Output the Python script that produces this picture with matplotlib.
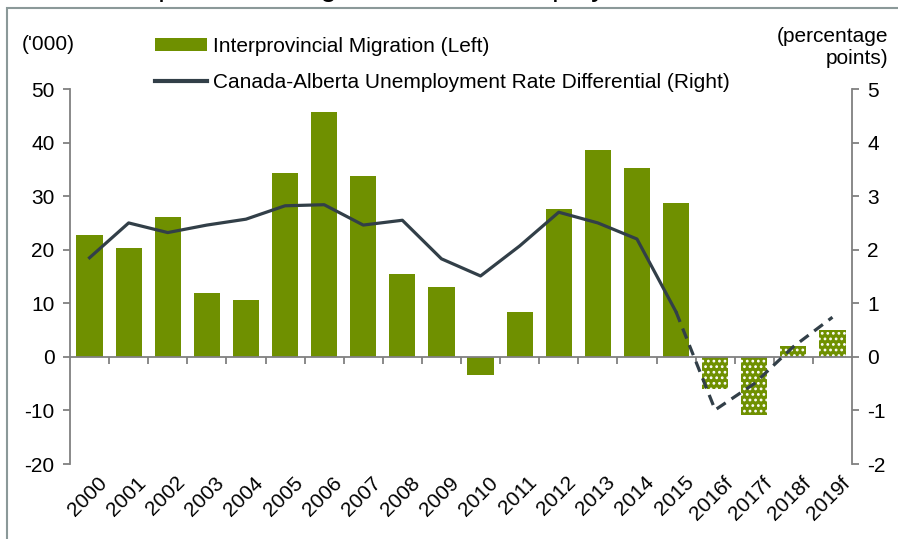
import matplotlib
matplotlib.use("Agg")
import matplotlib.pyplot as plt
import matplotlib.transforms as mtransforms
from matplotlib.patches import Rectangle
from matplotlib.lines import Line2D
from matplotlib.patches import Patch

plt.rcParams['font.family'] = ['Liberation Sans', 'DejaVu Sans']
plt.rcParams['axes.unicode_minus'] = False
plt.rcParams['hatch.linewidth'] = 1.2

# data
years = ['2000', '2001', '2002', '2003', '2004', '2005', '2006', '2007', '2008', '2009',
         '2010', '2011', '2012', '2013', '2014', '2015', '2016f', '2017f', '2018f', '2019f']
migration = [22.7, 20.4, 26.2, 11.9, 10.6, 34.4, 45.8, 33.8, 15.4, 13.1,
             -3.3, 8.4, 27.6, 38.6, 35.3, 28.8, -6.0, -10.8, 2.0, 5.0]
differential = [1.85, 2.50, 2.32, 2.46, 2.57, 2.82, 2.84, 2.46, 2.55, 1.83,
                1.51, 2.07, 2.70, 2.50, 2.20, 0.84, -0.99, -0.50, 0.19, 0.74]
n_actual = 16  # 2000-2015 actual, rest forecast

green = '#6f9000'
dark = '#323f48'
grey = '#808080'

fig = plt.figure(figsize=(8.98, 5.39), dpi=100)
ax = fig.add_axes([70/898, 1-464/539, 782/898, 375/539])
ax2 = ax.twinx()

x = list(range(len(years)))

# bars
ax.bar(x[:n_actual], migration[:n_actual], width=0.67, color=green, linewidth=0)
ax.bar(x[n_actual:], migration[n_actual:], width=0.67, color=green,
       edgecolor='white', hatch='...', linewidth=0)

# line, solid for actual, dashed for forecast
ax2.plot(x[:n_actual], differential[:n_actual], color=dark, lw=2.3, zorder=3)
ax2.plot(x[n_actual-1:], differential[n_actual-1:], color=dark, lw=2.3,
         ls=(0, (3.4, 2.2)), zorder=3)

ax.set_xlim(-0.5, len(years)-0.5)
ax.set_ylim(-20, 50)
ax.set_yticks(range(-20, 51, 10))
ax2.set_ylim(-2, 5)
ax2.set_yticks(range(-2, 6))

for a in (ax, ax2):
    a.spines['top'].set_visible(False)
    for s in a.spines.values():
        s.set_color(grey)
        s.set_linewidth(1.3)
    a.tick_params(axis='y', colors=grey, labelcolor='black', labelsize=15,
                  length=5, width=1.3, pad=6)
ax2.spines['left'].set_visible(False)
ax2.spines['bottom'].set_visible(False)
ax.spines['right'].set_visible(False)

# category axis sits on zero
ax.spines['bottom'].set_position(('data', 0))
ax.set_xticks([i + 0.5 for i in x[:-1]])
ax.set_xticklabels([])
ax.tick_params(axis='x', colors=grey, length=5, width=1.3, direction='out')

offset = mtransforms.ScaledTranslation(0, -9/100, fig.dpi_scale_trans)
trans = mtransforms.blended_transform_factory(ax.transData, ax.transAxes) + offset
for i, lab in enumerate(years):
    ax.text(i + 0.2, 0, lab, transform=trans, rotation=45, ha='right', va='top',
            rotation_mode='anchor', fontsize=15)

# unit labels
fig.text(22/898, 1-45/539, "('000)", fontsize=15, va='center', ha='left')
fig.text(888/898, 1-36/539, "(percentage", fontsize=15, va='center', ha='right')
fig.text(888/898, 1-58/539, "points)", fontsize=15, va='center', ha='right')

# legend
handles = [Patch(facecolor=green, edgecolor='none'),
           Line2D([], [], color=dark, lw=3)]
labels = ['Interprovincial Migration (Left)',
          'Canada-Alberta Unemployment Rate Differential (Right)']
fig.legend(handles, labels, loc='upper left', bbox_to_anchor=(155/898, 1-37/539),
           frameon=False, fontsize=15, handlelength=2.5, handleheight=0.55,
           handletextpad=0.3, labelspacing=0.8, borderpad=0, borderaxespad=0)

# title mostly above the frame, only descenders show, as in the source
fig.text(100/898, 1+4/539, 'Interprovincial Migration and Unemployment Rate Differential',
         fontsize=21, ha='left', va='baseline')
fig.patches.append(Rectangle((7/898, -0.1), 1.0, 1.1 - 8/539, transform=fig.transFigure,
                             fill=False, edgecolor='#8b9999', linewidth=1.5))

fig.savefig('out.png', dpi=100)
